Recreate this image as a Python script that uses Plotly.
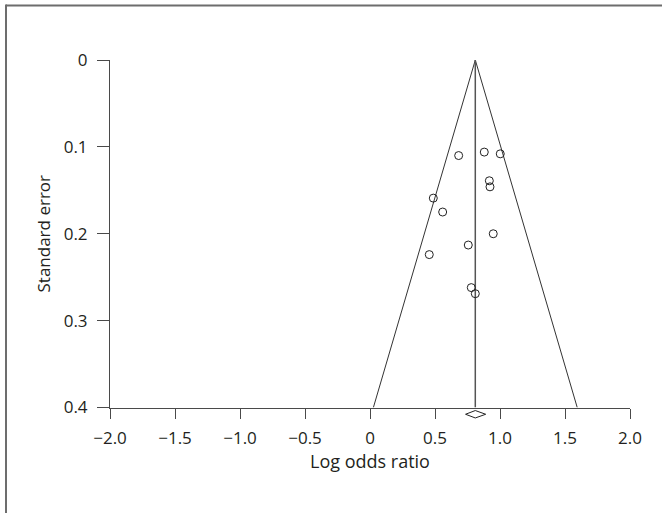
import plotly.graph_objects as go

# Study data (log odds ratio, standard error)
log_or = [0.682, 0.879, 1.002, 0.918, 0.923, 0.487, 0.559, 0.948, 0.756, 0.456, 0.779, 0.810]
std_err = [0.110, 0.106, 0.108, 0.139, 0.146, 0.159, 0.175, 0.200, 0.213, 0.224, 0.262, 0.269]

# Pooled estimate and its 95% CI
pooled = 0.81
pooled_ci = [0.735, 0.89]
se_max = 0.4

x_ticks = [-2.0, -1.5, -1.0, -0.5, 0, 0.5, 1.0, 1.5, 2.0]
x_ticklabels = ["\u22122.0", "\u22121.5", "\u22121.0", "\u22120.5", "0", "0.5", "1.0", "1.5", "2.0"]
y_ticks = [0, 0.1, 0.2, 0.3, 0.4]
y_ticklabels = ["0", "0.1", "0.2", "0.3", "0.4"]
x_title = "Log odds ratio"
y_title = "Standard error"

ink = "#231f20"
axis_col = "#4a4a4a"
frame_col = "#6d6d6d"
font = dict(family="Open Sans, Noto Sans, sans-serif", size=17, color=ink)
ytitle_font = dict(family="Open Sans, Noto Sans, sans-serif", size=17, color=ink)
xtitle_font = dict(family="Open Sans, Noto Sans, sans-serif", size=18, color=ink)

# layout geometry (pixels)
H = 513
top_m = 60
bottom_m = 92
plot_h = H - top_m - bottom_m
strip_frac = 13.5 / plot_h

fig = go.Figure()

# funnel
fig.add_trace(go.Scatter(
    x=[pooled - 1.96 * se_max, pooled, pooled + 1.96 * se_max],
    y=[se_max, 0, se_max],
    mode="lines", line=dict(color="#333333", width=1), hoverinfo="skip", showlegend=False,
))
# vertical line at pooled estimate
fig.add_trace(go.Scatter(
    x=[pooled, pooled], y=[0, se_max],
    mode="lines", line=dict(color="#555555", width=1.5), hoverinfo="skip", showlegend=False,
))
# studies
fig.add_trace(go.Scatter(
    x=log_or, y=std_err, mode="markers",
    marker=dict(symbol="circle-open", size=8, color="#222222", line=dict(width=1)),
    showlegend=False,
))
# pooled diamond (in a thin strip below the x axis line)
fig.add_trace(go.Scatter(
    x=[pooled_ci[0], pooled, pooled_ci[1], pooled, pooled_ci[0]],
    y=[0, 0.55, 0, -0.55, 0],
    mode="lines", line=dict(color="#222222", width=1),
    xaxis="x2", yaxis="y2", hoverinfo="skip", showlegend=False,
))

fig.update_layout(
    width=662, height=H,
    margin=dict(l=110, r=32, t=top_m, b=bottom_m),
    paper_bgcolor="white", plot_bgcolor="white",
    font=font,
    xaxis=dict(
        range=[-2.0, 2.0], autorange=False,
        tickvals=x_ticks, ticktext=x_ticklabels,
        ticks="outside", ticklen=10, tickwidth=1, tickcolor=axis_col,
        ticklabelstandoff=5,
        showline=True, linecolor=axis_col, linewidth=1,
        showgrid=False, zeroline=False,
        automargin=False, anchor="y",
    ),
    yaxis=dict(
        domain=[strip_frac, 1],
        range=[0.4, 0], autorange=False,
        tickvals=y_ticks, ticktext=y_ticklabels,
        ticks="outside", ticklen=12, tickwidth=1, tickcolor=axis_col,
        ticklabelstandoff=6,
        showline=True, linecolor=axis_col, linewidth=1,
        showgrid=False, zeroline=False,
        title=dict(text=y_title, standoff=8, font=ytitle_font),
        automargin=False, anchor="x",
    ),
    xaxis2=dict(matches="x", anchor="y2", visible=False, showgrid=False, zeroline=False),
    yaxis2=dict(domain=[0, strip_frac], range=[-1, 1], autorange=False,
                anchor="x2", visible=False, showgrid=False, zeroline=False),
    annotations=[dict(
        text=x_title, xref="paper", yref="paper", x=0.5, y=-(461 - (H - bottom_m)) / plot_h,
        xanchor="center", yanchor="middle", showarrow=False, font=xtitle_font,
    )],
    shapes=[
        # outer frame: left edge
        dict(type="line", xref="paper", yref="paper",
             x0=-0.2, x1=-0.2, y0=-0.5, y1=(H - bottom_m - 4.5) / plot_h,
             line=dict(color=frame_col, width=2)),
        # outer frame: top edge
        dict(type="line", xref="paper", yref="paper",
             x0=-0.2, x1=1.2, y0=(H - bottom_m - 5.5) / plot_h, y1=(H - bottom_m - 5.5) / plot_h,
             line=dict(color=frame_col, width=2)),
    ],
)

fig.write_html("out.html", config={"displayModeBar": False},
               post_script="document.body.style.margin='0';")
